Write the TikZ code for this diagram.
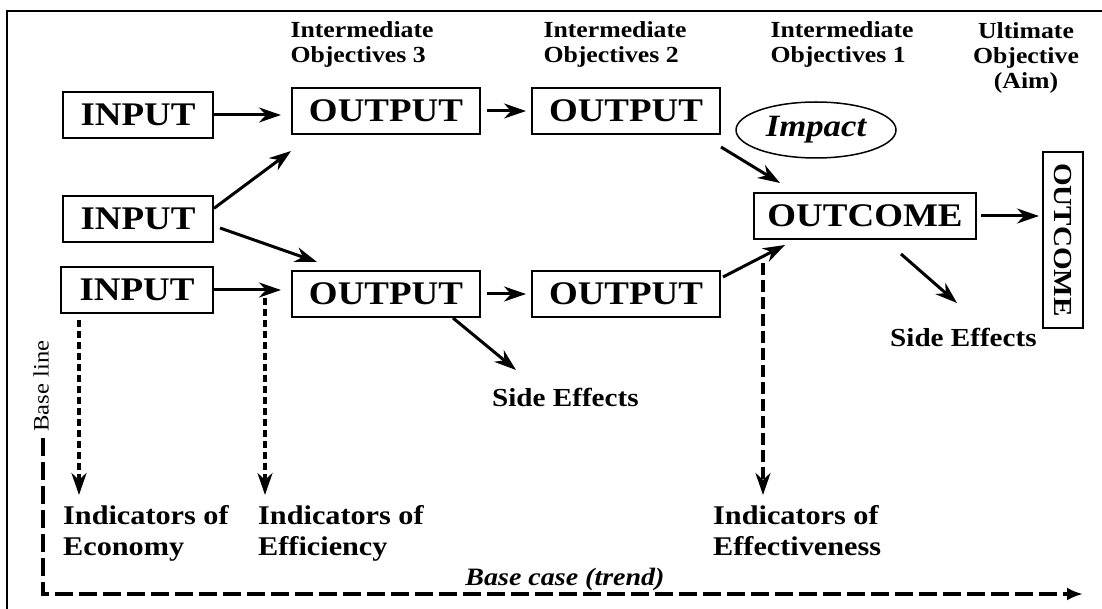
\documentclass[tikz,border=0pt]{standalone}
\usepackage{fontspec}
\setmainfont{Liberation Serif}[FakeStretch=1.12]
\usepackage{tikz}
\usetikzlibrary{arrows.meta,shapes.geometric}

\begin{document}
\begin{tikzpicture}[x=1pt,y=-1pt,
  box/.style={draw,line width=2pt,minimum height=46pt,inner xsep=10pt,font=\fontsize{33}{36}\selectfont\bfseries},
  hdr/.style={align=left,anchor=west,font=\fontsize{23}{25}\selectfont\bfseries},
  lbl/.style={align=left,inner sep=0pt,anchor=north west,font=\fontsize{27}{31}\selectfont\bfseries},
  arr/.style={->,line width=3pt},
  dots/.style={->,line width=3.5pt,dash pattern=on 7pt off 4pt},
  >={Stealth[length=22pt,width=15pt,inset=7pt]}]
\useasboundingbox (0,0) rectangle (1102,609);
\draw[line width=2pt] (7,620) -- (7,11) -- (1110,11);

\node[hdr] (h3) at (287,44) {Intermediate\\Objectives 3};
\node[hdr] (h2) at (540,44) {Intermediate\\Objectives 2};
\node[hdr] (h1) at (767,44) {Intermediate\\Objectives 1};
\node[hdr,align=center,anchor=center] (hu) at (1026,58) {Ultimate\\Objective\\(Aim)};

\node[box,minimum width=150pt] (in1) at (138,115) {INPUT};
\node[box,minimum width=150pt] (in2) at (138,219) {INPUT};
\node[box,minimum width=152pt] (in3) at (137,290) {INPUT};
\node[box,minimum width=188pt] (oa1) at (386,111) {OUTPUT};
\node[box,minimum width=188pt] (oa2) at (386,294) {OUTPUT};
\node[box,minimum width=188pt] (ob1) at (626,111) {OUTPUT};
\node[box,minimum width=188pt] (ob2) at (626,294) {OUTPUT};
\node[box,minimum width=222pt] (oc) at (865,216) {OUTCOME};
\node[box,rotate=-90,minimum width=175pt,minimum height=40pt,inner ysep=0pt,font=\fontsize{26}{28}\selectfont\bfseries] (aim) at (1063,240) {OUTCOME};
\node[draw,ellipse,line width=1.5pt,minimum width=160pt,minimum height=56pt,font=\fontsize{31}{32}\selectfont\bfseries\itshape] (imp) at (816,130) {Impact};

\node[lbl,anchor=west,font=\fontsize{26}{30}\selectfont\bfseries] (se1) at (492,397) {Side Effects};
\node[lbl,anchor=west,font=\fontsize{26}{30}\selectfont\bfseries] (se2) at (890,337) {Side Effects};
\node[lbl] (ie1) at (63,505) {Indicators of\\Economy};
\node[lbl] (ie2) at (258,505) {Indicators of\\Efficiency};
\node[lbl] (ie3) at (713,505) {Indicators of\\Effectiveness};
\node[rotate=90,font=\fontsize{22}{24}\selectfont] (bl) at (41,386) {Base line};
\node[anchor=south,font=\fontsize{25}{26}\selectfont\bfseries\itshape] (bc) at (565,594) {Base case (trend)};

\coordinate (eco) at (79,320); \coordinate (eff) at (265,298); \coordinate (efv) at (763,263);
\coordinate (b0) at (43,438); \coordinate (b1) at (43,594); \coordinate (b2) at (1083,594);

\draw[arr,shorten >=10pt] (in1.east) -- (in1.east -| oa1.west);
\draw[arr,shorten <=6pt,shorten >=5pt] (oa1.east) -- (oa1.east -| ob1.west);
\draw[arr] (in2.8) -- ([yshift=-16pt]oa1.south west);
\draw[arr] ([xshift=6pt,yshift=-9pt]in2.east) -- ([xshift=26pt,yshift=8pt]oa2.north west);
\draw[arr,shorten >=10pt] (in3.east) -- (in3.east -| oa2.west);
\draw[arr,shorten <=6pt,shorten >=5pt] (oa2.east) -- (oa2.east -| ob2.west);
\draw[arr] ([yshift=-12pt]ob1.south east) -- ([xshift=27pt,yshift=9pt]oc.north west);
\draw[arr] ([xshift=2pt,yshift=-7pt]ob2.north east) -- ([xshift=32pt,yshift=-5pt]oc.south west);
\draw[arr,shorten <=4pt,shorten >=3pt] (oc.east) -- (oc.east -| aim.south);
\draw[arr] ([xshift=-28pt]oa2.south east) -- ([xshift=24pt,yshift=27pt]se1.west);
\draw[arr] ([xshift=36pt,yshift=-14pt]oc.south) -- ([xshift=67pt,yshift=34pt]se2.west);

\draw[dots,shorten >=10pt] (eco) -- (eco |- ie1.north);
\draw[dots,shorten >=10pt] (eff) -- (eff |- ie2.north);
\draw[->,line width=3.5pt,dash pattern=on 12pt off 5pt,shorten >=10pt] (efv) -- (efv |- ie3.north);
\draw[-{Latex[length=16pt,width=13pt]},line width=4pt,dash pattern=on 18pt off 6pt] (b0) -- (b1) -- (b2);
\end{tikzpicture}
\end{document}
